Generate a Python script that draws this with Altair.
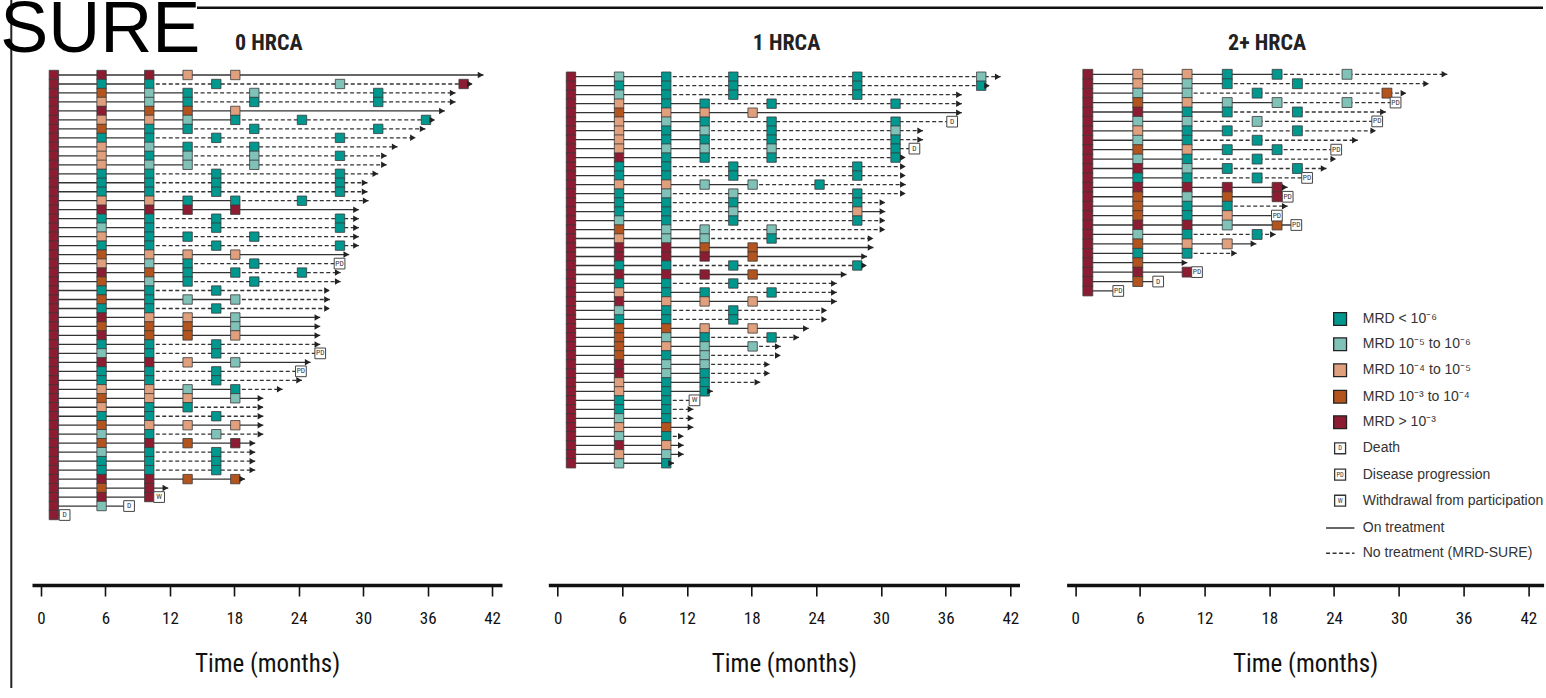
import altair as alt
import pandas as pd

# ---------------- data ----------------
CATS = ["T", "L", "P", "U", "R"]
CAT_COLORS = ["#00978f", "#80c1b8", "#e1a07d", "#b3531e", "#8c1c32"]
COLS = "ABCDEFGHIJKL"

# ---- 0 HRCA ----
P1_VISITS = [1.2, 5.64, 10.08, 13.65, 16.32, 18.09, 19.86, 24.3, 27.84, 31.4, 35.85, 39.35]
P1_CODES = [
    "RRRP.P......", "RTT.T...L..R", "RULT..L..T..", "RPLT..T..T..", "RRUU.P......",
    "RPPL.T.T..T.", "RUTT..T..T..", "RTT.T...T...", "RPLT..T.....", "RPTL..L.T...",
    "RPLL..L.....", "RTT.T...T...", "RTT.T...T...", "RTT.T...T...", "RPPT.T.T....",
    "RRRR.R......", "RTT.T...T...", "RLT.T...T...", "RPTT..T.....", "RTT.T...T...",
    "RUPP.P......", "RPLT..T.....", "RRUT.T.T....", "RULT..T.....", "RTT.T.......",
    "RUTL.L......", "RTT.T.......", "RRPP.L......", "RUUU.L......", "RRUU.P......",
    "RTT.T.......", "RLT.T.......", "RRRP.L......", "RTT.T.......", "RTT.T.......",
    "RPPL.T......", "RUPP.L......", "RPTT........", "RTT.T.......", "RUPP.P......",
    "RLT.L.......", "RURU.R......", "RLT.T.......", "RTT.T.......", "RTT.T.......",
    "RRRU.U......", "RUR.........", "RRR.........", "RL..........", "R...........",
]
P1_DASH_FROM = ".CDD.FDCDD" "DCCCF.CCDC" ".DFDCFC..." "CC.CCF.DC." "C.CCC....."
P1_DASH_TO = "." * 50
P1_ENDS = [41.2, 40.2, 38.6, 38.6, 37.6, 36.7, 35.8, 34.9, 33.2, 32.2,
           32.2, 31.4, 30.4, 30.4, 30.5, 29.6, 29.6, 29.6, 29.6, 29.6,
           28.7, 27.8, 27.9, 27.9, 26.9, 26.9, 26.9, 26.0, 26.0, 26.0,
           26.0, 26.0, 25.1, 24.2, 24.3, 22.5, 20.7, 20.7, 20.7, 20.7,
           20.7, 19.95, 19.95, 19.95, 19.95, 19.0, 11.85, 11.0, 8.2, 2.2]
P1_END_TYPES = ["A"] * 50
for _i, _t in [(21, "PD"), (31, "PD"), (33, "PD"), (47, "W"), (48, "D"), (49, "D")]:
    P1_END_TYPES[_i] = _t

# ---- 1 HRCA ----
P2_VISITS = [1.24, 5.7, 10.08, 13.64, 16.3, 18.09, 19.85, 24.3, 27.8, 31.35, 39.3]
P2_CODES = [
    "RLT.T...T.L", "RTT.T...T.T", "RLT.T...T..", "RPTT..T..T.", "RUPP.P.....",
    "RPLT..T..T.", "RPTL..T..L.", "RPTT..T..T.", "RPLL..L..T.", "RRTT..T..T.",
    "RTT.T...T..", "RTT.T...T..", "RPPL.L.T...", "RTL.L...T..", "RTT.T...T..",
    "RTT.L...P..", "RLT.T...T..", "RULL..L....", "RPLL..T....", "RRRU.U.....",
    "RRRR.U.....", "RTT.T...T..", "RRRR.U.....", "RTT.T......", "RPTT..T....",
    "RRPP.P.....", "RLT.T......", "RTT.T......", "RUUP.P.....", "RULT..T....",
    "RUPL.L.....", "RUTL.......", "RRLL.......", "RRLT.......", "RPTT.......",
    "RPTT.......", "RTT........", "RTT........", "RLT........", "RPU........",
    "RLT........", "RRP........", "RPL........", "RLT........",
]
P2_DASH_FROM = "CCCD.DDDDD" "CCFCCCCDD." ".C.CD.CC.D" "FDDDD.CCC." "C..."
P2_DASH_TO = "." * 15 + "I" + "." * 28
P2_ENDS = [41.1, 40.1, 37.5, 37.5, 37.5, 36.6, 33.9, 33.9, 33.1, 32.3,
           32.3, 32.3, 32.3, 32.3, 30.4, 30.4, 30.4, 30.4, 29.3, 29.3,
           28.7, 28.7, 26.8, 25.9, 25.9, 25.9, 25.0, 25.0, 23.3, 22.4,
           20.7, 20.7, 19.7, 19.7, 18.8, 14.4, 12.7, 12.6, 12.6, 12.6,
           11.7, 11.7, 11.7, 10.8]
P2_END_TYPES = ["A"] * 44
for _i, _t in [(5, "D"), (8, "D"), (36, "W")]:
    P2_END_TYPES[_i] = _t

# ---- 2+ HRCA ----
P3_VISITS = [1.18, 5.81, 10.38, 14.1, 16.87, 18.72, 20.6, 25.2, 28.9]
P3_CODES = [
    "RPPT.T.L.", "RPLT..T..", "RLL.T...U", "RUPL.L.L.", "RRTT..T..",
    "RLL.L....", "RPTT..T..", "RLT.T....", "RUPT.T...", "RLT.T....",
    "RRLT..T..", "RTT.T....", "RRRR.R...", "RULU.R...", "RUTT.....",
    "RUTP.....", "RRRL.U...", "RLT.T....", "RUPP.....", "RTT......",
    "RU.......", "RRR......", "RU.......", "R........",
]
P3_DASH_FROM = "FDCFDCDCFC" "DC..D..C.C" "...."
P3_DASH_TO = "." * 24
P3_ENDS = [34.5, 32.8, 30.7, 29.7, 28.8, 28.0, 27.9, 26.2, 24.2, 24.2,
           23.3, 21.5, 19.7, 19.7, 19.7, 18.7, 20.5, 18.6, 16.8, 15.0,
           10.4, 11.3, 7.7, 4.0]
P3_END_TYPES = ["A"] * 24
for _i, _t in [(3, "PD"), (5, "PD"), (8, "PD"), (11, "PD"), (13, "PD"), (15, "PD"),
               (16, "PD"), (21, "PD"), (22, "D"), (23, "PD")]:
    P3_END_TYPES[_i] = _t

LEG_LABELS = ["MRD < 10⁻⁶", "MRD 10⁻⁵ to 10⁻⁶", "MRD 10⁻⁴ to 10⁻⁵", "MRD 10⁻³ to 10⁻⁴",
              "MRD > 10⁻³", "Death", "Disease progression", "Withdrawal from participation",
              "On treatment", "No treatment (MRD-SURE)"]
LEG_BOXES = ["D", "PD", "W"]
TICKS = [0, 6, 12, 18, 24, 30, 36, 42]

# ---------------- styling ----------------
NARROW = "Liberation Sans Narrow, Arial Narrow, Roboto Condensed, sans-serif"
SANS = "Liberation Sans, Arial, Helvetica, sans-serif"
H = 585


def build(visits, codes, dash_from, dash_to, ends, etypes):
    sq, seg, arr, ev = [], [], [], []
    for i, code in enumerate(codes):
        for j, c in enumerate(code):
            if c != ".":
                sq.append({"x": visits[j], "row": i, "cat": c})
        start, end = visits[0], ends[i]
        if dash_from[i] == ".":
            seg.append({"x0": start, "x1": end, "row": i, "style": "solid"})
        else:
            t0 = visits[COLS.index(dash_from[i])]
            seg.append({"x0": start, "x1": t0, "row": i, "style": "solid"})
            if dash_to[i] == ".":
                seg.append({"x0": t0, "x1": end, "row": i, "style": "dashed"})
            else:
                t1 = visits[COLS.index(dash_to[i])]
                seg.append({"x0": t0, "x1": t1, "row": i, "style": "dashed"})
                seg.append({"x0": t1, "x1": end, "row": i, "style": "solid"})
        if etypes[i] == "A":
            arr.append({"x": end - 0.27, "row": i})
        else:
            ev.append({"x": end, "row": i, "label": etypes[i]})
    return (pd.DataFrame(sq), pd.DataFrame(seg), pd.DataFrame(arr), pd.DataFrame(ev))


def x_axis():
    return alt.Axis(values=TICKS, title="Time (months)", grid=False,
                    domainColor="#111", domainWidth=3.5, tickColor="#111", tickWidth=1.6,
                    tickSize=11, labelFont=NARROW, labelFontSize=17, labelColor="#111",
                    labelBaseline="alphabetic", labelPadding=27, labelFlush=False,
                    labelOverlap=False, titleFont=NARROW, titleFontSize=25,
                    titleFontWeight="normal", titleColor="#111", titleBaseline="alphabetic",
                    titleY=86)


STYLE_SCALE = alt.Scale(domain=["solid", "dashed"], range=[[1, 0], [4, 2.5]])
COLOR_SCALE = alt.Scale(domain=CATS, range=CAT_COLORS)


def make_panel(visits, codes, dash_from, dash_to, ends, etypes, xdom, ydom, width,
               sq_size, title, title_x, extra=()):
    sq, seg, arr, ev = build(visits, codes, dash_from, dash_to, ends, etypes)
    xs = alt.Scale(domain=xdom, nice=False, zero=False)
    ys = alt.Scale(domain=ydom, nice=False, zero=False, reverse=True)

    def X(f):
        return alt.X(f, type="quantitative", scale=xs, axis=x_axis())

    def Y(f):
        return alt.Y(f, type="quantitative", scale=ys, axis=None)

    lines = alt.Chart(seg).mark_rule(strokeWidth=1.3, color="#333").encode(
        x=X("x0"), x2="x1", y=Y("row"),
        strokeDash=alt.StrokeDash("style:N", scale=STYLE_SCALE, legend=None))
    squares = alt.Chart(sq).mark_point(shape="square", filled=True, size=sq_size, opacity=1,
                                       stroke="#3a3a3a", strokeWidth=0.8).encode(
        x=X("x"), y=Y("row"), color=alt.Color("cat:N", scale=COLOR_SCALE, legend=None))
    arrows = alt.Chart(arr).mark_point(shape="triangle-right", filled=True, size=42,
                                       opacity=1, color="#222").encode(x=X("x"), y=Y("row"))
    boxes = alt.Chart(ev).mark_point(shape="square", filled=True, fill="white", size=115,
                                     opacity=1, stroke="#444", strokeWidth=1).encode(
        x=X("x"), y=Y("row"))
    box_text = alt.Chart(ev).mark_text(font=NARROW, fontSize=7.5, color="#333",
                                       baseline="middle").encode(
        x=X("x"), y=Y("row"), text="label:N")
    ttl = alt.Chart(pd.DataFrame({"t": [title]})).mark_text(
        font=NARROW, fontSize=22, fontWeight="bold", color="#222",
        baseline="alphabetic", align="center").encode(
        text="t:N", x=alt.value(title_x), y=alt.value(50))
    layers = [lines, squares, arrows, boxes, box_text, ttl] + [f(X, Y) for f in extra]
    return alt.layer(*layers).properties(width=width, height=H)


def decorations(X, Y):
    sure = alt.Chart(pd.DataFrame({"t": ["SURE"]})).mark_text(
        font=SANS, fontSize=72, align="left", baseline="alphabetic", color="black").encode(
        text="t:N", x=alt.value(-31.7), y=alt.value(52))
    vline = alt.Chart(pd.DataFrame({"a": [0]})).mark_rule(color="#222", strokeWidth=2).encode(
        x=alt.value(-20.7), y=alt.value(0), y2=alt.value(688))
    hline = alt.Chart(pd.DataFrame({"a": [0]})).mark_rule(color="#111", strokeWidth=2.6).encode(
        x=alt.value(165), x2=alt.value(1511), y=alt.value(7.8))
    return alt.layer(vline, hline, sure)


LEG_SQ_X, LEG_TXT_X, LEG_L0, LEG_L1 = 24.56, 26.66, 23.26, 25.89
LEG_Y = [25.98, 28.66, 31.42, 34.23, 36.94, 39.70, 42.50, 45.27, 48.16, 50.85]


def legend(X, Y):
    sqd = pd.DataFrame({"x": [LEG_SQ_X] * 5, "row": LEG_Y[:5], "cat": CATS})
    bxd = pd.DataFrame({"x": [LEG_SQ_X] * 3, "row": LEG_Y[5:8], "label": LEG_BOXES})
    lnd = pd.DataFrame({"x0": [LEG_L0] * 2, "x1": [LEG_L1] * 2, "row": LEG_Y[8:],
                        "style": ["solid", "dashed"]})
    txd = pd.DataFrame({"x": [LEG_TXT_X] * 10, "row": LEG_Y, "t": LEG_LABELS})
    s = alt.Chart(sqd).mark_point(shape="square", filled=True, size=165, opacity=1,
                                  stroke="#222", strokeWidth=1.3).encode(
        x=X("x"), y=Y("row"), color=alt.Color("cat:N", scale=COLOR_SCALE, legend=None))
    b = alt.Chart(bxd).mark_point(shape="square", filled=True, fill="white", size=120,
                                  opacity=1, stroke="#333", strokeWidth=1.3).encode(
        x=X("x"), y=Y("row"))
    bt = alt.Chart(bxd).mark_text(font=NARROW, fontSize=6.5, color="#333").encode(
        x=X("x"), y=Y("row"), text="label:N")
    ln = alt.Chart(lnd).mark_rule(strokeWidth=1.5, color="#333").encode(
        x=X("x0"), x2="x1", y=Y("row"),
        strokeDash=alt.StrokeDash("style:N", scale=STYLE_SCALE, legend=None))
    tx = alt.Chart(txd).mark_text(font=SANS, fontSize=14, color="#333", align="left",
                                  baseline="middle", clip=True).encode(
        x=X("x"), y=Y("row"), text="t:N")
    return alt.layer(s, b, bt, ln, tx)


p1 = make_panel(P1_VISITS, P1_CODES, P1_DASH_FROM, P1_DASH_TO, P1_ENDS, P1_END_TYPES,
                [-0.838, 42.924], [-8.352, 56.793], 470, 88, "0 HRCA", 236.8,
                extra=(decorations,))
p2 = make_panel(P2_VISITS, P2_CODES, P2_DASH_FROM, P2_DASH_TO, P2_ENDS, P2_END_TYPES,
                [-0.863, 42.848], [-8.532, 56.540], 471.2, 88, "1 HRCA", 238.2)
p3 = make_panel(P3_VISITS, P3_CODES, P3_DASH_FROM, P3_DASH_TO, P3_ENDS, P3_END_TYPES,
                [-0.788, 43.42], [-7.887, 54.215], 477, 98, "2+ HRCA", 200.5,
                extra=(legend,))

chart = alt.hconcat(p1, p2, p3, spacing=46.3, bounds="flush").properties(
    padding={"top": -6, "left": 0, "right": 0, "bottom": 0},
    background="white",
).configure_view(stroke=None, strokeWidth=0)

chart.save("out.html", embed_options={"renderer": "svg", "actions": False})
